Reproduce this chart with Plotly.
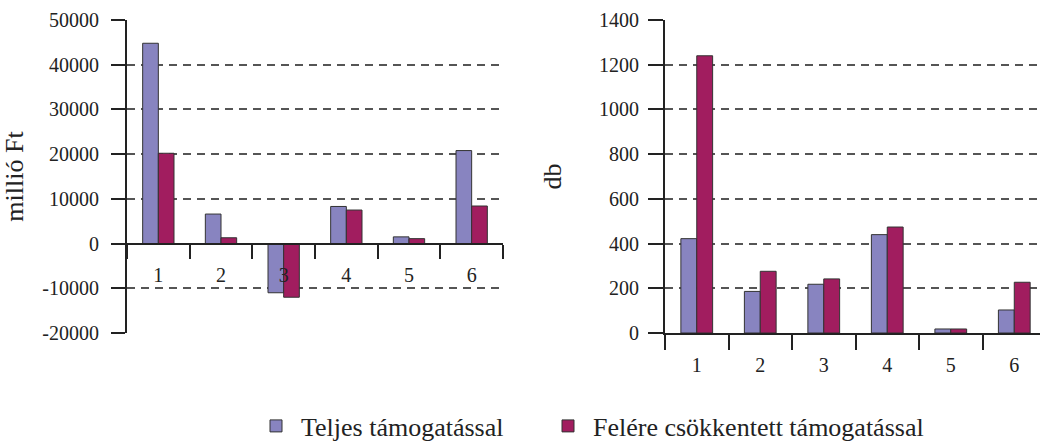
import plotly.graph_objects as go

categories = ["1", "2", "3", "4", "5", "6"]
series_names = ["Teljes támogatással", "Felére csökkentett támogatással"]
left_full = [44800, 6600, -11000, 8300, 1500, 20800]
left_half = [20200, 1300, -12000, 7500, 1100, 8400]
right_full = [422, 186, 218, 440, 18, 103]
right_half = [1240, 276, 242, 474, 18, 227]
left_ticks = [-20000, -10000, 0, 10000, 20000, 30000, 40000, 50000]
right_ticks = [0, 200, 400, 600, 800, 1000, 1200, 1400]

c_full = "#8884c0"
c_half = "#a11d5f"
edge = "#333333"
font_fam = "Liberation Serif, Times New Roman, serif"
axc = "#222222"

fig = go.Figure()
fig.add_trace(go.Bar(x=categories, y=left_full, name=series_names[0], marker=dict(color=c_full, line=dict(color=edge, width=1)),
                     xaxis="x", yaxis="y", legend="legend", legendgroup="a"))
fig.add_trace(go.Bar(x=categories, y=left_half, name=series_names[1], marker=dict(color=c_half, line=dict(color=edge, width=1)),
                     xaxis="x", yaxis="y", legend="legend2", legendgroup="b"))
fig.add_trace(go.Bar(x=categories, y=right_full, name=series_names[0], marker=dict(color=c_full, line=dict(color=edge, width=1)),
                     xaxis="x2", yaxis="y2", legendgroup="a", showlegend=False))
fig.add_trace(go.Bar(x=categories, y=right_half, name=series_names[1], marker=dict(color=c_half, line=dict(color=edge, width=1)),
                     xaxis="x2", yaxis="y2", legendgroup="b", showlegend=False))

W, H = 1040, 441
ml, mr, mt, mb = 127, 0, 20, 108
pw = W - ml - mr
ph = H - mt - mb
d1 = (503 - ml) / pw
d2 = (665 - ml) / pw

tickfont = dict(family=font_fam, size=20, color="#222")
grid = dict(showgrid=True, gridcolor="#555555", gridwidth=1.5, griddash="8px,6px")
legfont = dict(family=font_fam, size=26, color="#222")
leg_y = -(426 - (mt + ph)) / ph

fig.update_layout(
    width=W, height=H,
    margin=dict(l=ml, r=mr, t=mt, b=mb, autoexpand=False),
    paper_bgcolor="white", plot_bgcolor="white",
    barmode="group", bargap=0.5, bargroupgap=0,
    font=dict(family=font_fam, color="#222"),
    showlegend=True,
    legend=dict(orientation="h", x=(251 - ml) / pw, xanchor="left", y=leg_y, yanchor="middle",
                font=legfont, itemwidth=40),
    legend2=dict(orientation="h", x=(543 - ml) / pw, xanchor="left", y=leg_y, yanchor="middle",
                 font=legfont, itemwidth=40),
    xaxis=dict(domain=[0, d1], anchor="free", position=2/7, type="category", range=[-0.5, 5.5],
               showline=True, linecolor=axc, linewidth=2, ticks="outside", tickson="boundaries",
               ticklen=14, tickwidth=2, tickcolor=axc, tickfont=tickfont, showgrid=False,
               ticklabelstandoff=13, automargin=False),
    yaxis=dict(domain=[0, 1], anchor="x", range=[-20000, 50000], tickvals=left_ticks,
               ticktext=[str(v) for v in left_ticks],
               showline=True, linecolor=axc, linewidth=2, ticks="outside", ticklen=14, tickwidth=2,
               tickcolor=axc, tickfont=tickfont, zeroline=False, ticklabelstandoff=8, automargin=False,
               title=dict(text="millió Ft", font=dict(family=font_fam, size=26, color="#222"), standoff=12),
               **grid),
    xaxis2=dict(domain=[d2, 1], anchor="y2", type="category", range=[-0.5, 5.405],
                showline=True, linecolor=axc, linewidth=2, ticks="outside", tickson="boundaries",
                ticklen=15, tickwidth=2, tickcolor=axc, tickfont=tickfont, showgrid=False,
                ticklabelstandoff=13, automargin=False),
    yaxis2=dict(domain=[0, 1], anchor="x2", range=[0, 1400], tickvals=right_ticks,
                showline=True, linecolor=axc, linewidth=2, ticks="outside", ticklen=15, tickwidth=2,
                tickcolor=axc, tickfont=tickfont, zeroline=False, ticklabelstandoff=5, automargin=False,
                title=dict(text="db", font=dict(family=font_fam, size=26, color="#222"), standoff=30),
                **grid),
)

fig.write_html("out.html", config={"displayModeBar": False},
               post_script="document.body.style.margin='0';document.body.style.overflow='hidden';")
